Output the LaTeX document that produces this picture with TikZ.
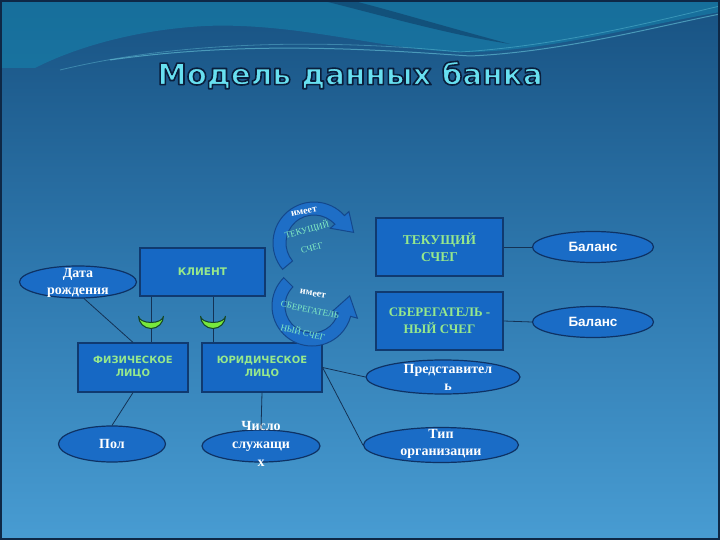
\documentclass[tikz,border=0pt]{standalone}
\usepackage{fontspec}
\setmainfont{Liberation Serif}
\newfontfamily\dvsans{DejaVu Sans}
\newfontfamily\libsans{Liberation Sans}
\usetikzlibrary{shapes.geometric,calc}
\definecolor{bgtop}{RGB}{24,82,130}
\definecolor{bgmid}{RGB}{46,120,174}
\definecolor{bgbot}{RGB}{72,156,210}
\definecolor{frame}{RGB}{14,40,70}
\definecolor{wavelight}{RGB}{22,130,172}
\definecolor{wavedark}{RGB}{14,52,92}
\definecolor{wavestreak}{RGB}{120,220,235}
\definecolor{boxfill}{RGB}{22,104,196}
\definecolor{boxedge}{RGB}{16,58,112}
\definecolor{boxtext}{RGB}{150,232,140}
\definecolor{ellfill}{RGB}{26,108,198}
\definecolor{elledge}{RGB}{14,50,100}
\definecolor{linecol}{RGB}{20,50,85}
\definecolor{titlecyan}{RGB}{104,224,240}
\definecolor{titleedge}{RGB}{10,30,60}
\definecolor{cupgreen}{RGB}{120,232,60}
\definecolor{cupedge}{RGB}{20,70,40}
\definecolor{arrfill}{RGB}{30,110,198}
\definecolor{arredge}{RGB}{20,72,140}
\definecolor{curvetext}{RGB}{130,236,196}
\newcommand\outlinedtext[1]{\special{pdf:literal direct 2 Tr 1.6 w 1 j 0.04 0.12 0.24 RG}#1\special{pdf:literal direct 0 Tr 1 w}}
\tikzset{
  entbox/.style={rectangle, draw=boxedge, line width=1.2pt, fill=boxfill, text=boxtext, align=center, inner sep=0pt},
  attr/.style={ellipse, draw=elledge, line width=1.2pt, fill=ellfill, inner sep=0pt},
  attrtext/.style={text=white, align=center, font=\fontsize{14}{17}\selectfont\bfseries, inner sep=0pt},
  baltext/.style={text=white, font=\libsans\fontsize{13.5}{16}\selectfont\bfseries, inner sep=0pt},
  conn/.style={draw=linecol, line width=0.8pt},
  cup/.style={fill=cupgreen, draw=cupedge, line width=1pt},
  circarrow/.style={fill=arrfill, draw=arredge, line width=1pt},
  curvewhite/.style={text=white, font=\fontsize{10}{12}\selectfont\bfseries, inner sep=0pt},
  curvegreen/.style={text=curvetext, font=\fontsize{9}{11}\selectfont, inner sep=0pt}
}
\begin{document}
\begin{tikzpicture}[x=1pt,y=-1pt]
\useasboundingbox (0,0) rectangle (720,540);
% background
\shade[top color=bgtop, bottom color=bgbot, middle color=bgmid] (0,0) rectangle (720,540);
\fill[wavelight, opacity=0.6] (0,0) -- (720,0) -- (720,12) .. controls (620,30) and (540,52) .. (465,52) .. controls (390,52) and (300,22) .. (205,26) .. controls (130,30) and (70,50) .. (35,68) -- (0,68) -- cycle;
\fill[wavedark, opacity=0.5] (320,0) .. controls (380,15) and (450,35) .. (510,44) .. controls (450,28) and (390,10) .. (350,0) -- cycle;
\draw[wavestreak, opacity=0.5, line width=1pt] (110,60) .. controls (250,40) and (380,50) .. (470,56) .. controls (560,52) and (650,28) .. (720,14);
\draw[wavestreak, opacity=0.35, line width=0.8pt] (60,70) .. controls (200,36) and (360,42) .. (460,52) .. controls (560,46) and (660,20) .. (720,6);
\draw[frame, line width=2pt] (1,1) rectangle (719,539);

% title
\node[text=titlecyan, font=\dvsans\fontsize{29.5}{34}\selectfont\bfseries] (title) at (350,75) {\outlinedtext{Модель данных банка}};

% entities
\node[entbox, minimum width=125pt, minimum height=48pt, font=\dvsans\fontsize{10.5}{13}\selectfont\bfseries] (klient) at (202.5,272) {КЛИЕНТ};
\node[entbox, minimum width=110pt, minimum height=49pt, font=\dvsans\fontsize{10}{13}\selectfont\bfseries] (fiz) at (133,367.5) {ФИЗИЧЕСКОЕ\\ЛИЦО};
\node[entbox, minimum width=120pt, minimum height=49pt, font=\dvsans\fontsize{10}{13}\selectfont\bfseries] (yur) at (262,367.5) {ЮРИДИЧЕСКОЕ\\ЛИЦО};
\node[entbox, minimum width=127pt, minimum height=58pt, font=\fontsize{13.5}{17}\selectfont\bfseries] (tek) at (439.5,247) {ТЕКУЩИЙ\\СЧЕГ};
\node[entbox, minimum width=127pt, minimum height=58pt, font=\fontsize{13}{17}\selectfont\bfseries] (sber) at (439.5,321) {СБЕРЕГАТЕЛЬ -\\НЫЙ СЧЕГ};

% attributes
\node[attr, minimum width=117pt, minimum height=32pt] (data) at (78,282) {};
\node[attrtext] (datat) at (78,283) {Дата\\рождения};
\node[attr, minimum width=107pt, minimum height=36pt] (pol) at (112,444) {};
\node[attrtext] (polt) at (112,444) {Пол};
\node[attr, minimum width=118pt, minimum height=32pt] (chislo) at (261,446) {};
\node[attrtext, font=\fontsize{14}{18}\selectfont\bfseries] (chislot) at (261,444) {Число\\служащи\\х};
\node[attr, minimum width=154pt, minimum height=34pt] (pred) at (443,377) {};
\node[attrtext] (predt) at (448,377) {Представител\\ь};
\node[attr, minimum width=155pt, minimum height=35pt] (tip) at (441,445) {};
\node[attrtext] (tipt) at (441,444) {Тип\\организации};
\node[attr, minimum width=121pt, minimum height=31pt] (bal1) at (593,247) {};
\node[baltext] (bal1t) at (593,247) {Баланс};
\node[attr, minimum width=121pt, minimum height=31pt] (bal2) at (593,322) {};
\node[baltext] (bal2t) at (593,322) {Баланс};

% connectors
\draw[conn] (klient.south -| 151,0) -- (fiz.north -| 151,0);
\draw[conn] (klient.south -| 213,0) -- (yur.north -| 213,0);
\draw[conn] (data.-70) -- (fiz.north);
\draw[conn] (fiz.south) -- (pol.north);
\draw[conn] (yur.south) -- (chislo.north);
\draw[conn] (yur.east) -- (pred.west);
\draw[conn] (yur.east) -- (tip.west);
\draw[conn] (tek.east) -- (bal1.west);
\draw[conn] (sber.east) -- (bal2.west);

% subtype cups
\begin{scope}[shift={(151,316)}]
  \path[cup] (0:12.5) arc[start angle=0, end angle=180, radius=12.5] arc[start angle=180, end angle=0, x radius=12.5, y radius=6.5] -- cycle;
\end{scope}
\begin{scope}[shift={(213,316)}]
  \path[cup] (0:12.5) arc[start angle=0, end angle=180, radius=12.5] arc[start angle=180, end angle=0, x radius=12.5, y radius=6.5] -- cycle;
\end{scope}

% circular arrows
\begin{scope}[shift={(314,243)}]
  \path[circarrow] (140:41) arc[start angle=140, end angle=318, radius=41] -- (318:47) -- (345:41) -- (318:22) -- (318:28) arc[start angle=318, end angle=140, radius=28] -- cycle;
\end{scope}
\begin{scope}[shift={(312,306)}]
  \path[circarrow] (225:40) arc[start angle=225, end angle=15, radius=40] -- (15:47) -- (-15:39) -- (15:21) -- (15:27) arc[start angle=15, end angle=225, radius=27] -- cycle;
\end{scope}
\node[curvewhite, rotate=12] (u1) at (304,212) {имеет};
\node[curvegreen, rotate=15] (u2) at (307,230) {ТЕКУЩИЙ};
\node[curvegreen, rotate=15] (u3) at (312,248) {СЧЕГ};
\node[curvewhite, rotate=-10] (l1) at (313,294) {имеет};
\node[curvegreen, rotate=-12] (l2) at (310,310) {СБЕРЕГАТЕЛЬ};
\node[curvegreen, rotate=-14] (l3) at (303,332) {НЫЙ СЧЕГ};
\end{tikzpicture}
\end{document}
